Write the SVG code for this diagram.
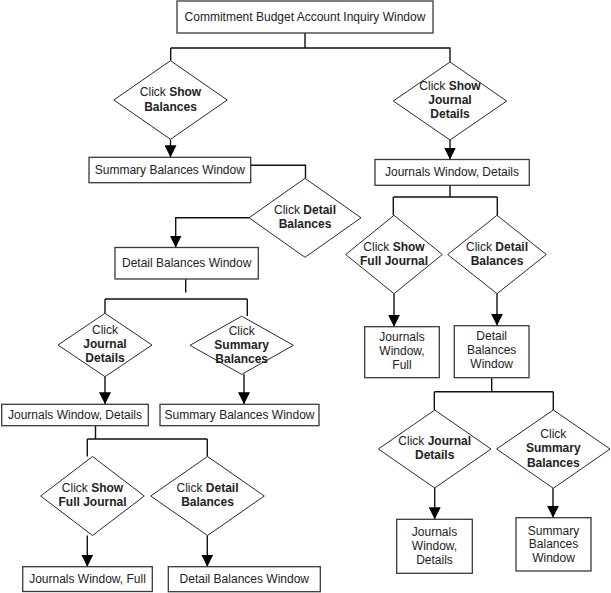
<svg xmlns="http://www.w3.org/2000/svg" width="611" height="593" viewBox="0 0 611 593">
<defs>
<style>
.box{fill:#fff;stroke:#3a3a3a;stroke-width:1.3}
.dia{fill:#fff;stroke:#2a2a2a;stroke-width:1}
.ln{fill:none;stroke:#111;stroke-width:1.4}
.ar{fill:none;stroke:#111;stroke-width:1.4;marker-end:url(#arr)}
text{font-family:"Liberation Sans",Arial,sans-serif;font-size:12px;fill:#222;text-anchor:middle;dominant-baseline:central}
.b{font-weight:bold}
</style>
<marker id="arr" markerUnits="userSpaceOnUse" markerWidth="12" markerHeight="12" viewBox="0 0 12 12" refX="12" refY="6" orient="auto">
<path d="M0,0 L12,6 L0,12 z" fill="#000"/>
</marker>
</defs>
<g id="connectors">
<path class="ln" d="M305,33 V48 M170.7,48 H450.5 M170.7,48 V60.7 M450,48 V61.7"/>
<path class="ar" d="M170.5,139.3 V157.3"/>
<path class="ar" d="M450,140 V159.5"/>
<path class="ln" d="M250.7,165.3 H305.5 V178.3"/>
<path class="ar" d="M249,217.7 H175.7 V247.5"/>
<path class="ln" d="M185.7,279 V292.5 M105,299 H247.3 M105,299 V313.3 M247.3,299 V316"/>
<path class="ar" d="M105,376.7 V404.3"/>
<path class="ar" d="M244,374.3 V404.3"/>
<path class="ln" d="M95.5,425.7 V439 M87.3,439 H207.3 M87.3,439 V456.5 M207.3,439 V456.5"/>
<path class="ar" d="M87.3,535.5 V566.7"/>
<path class="ar" d="M207.3,535.5 V566.7"/>
<path class="ln" d="M450,185.3 V197 M393.3,197 H497.3 M393.3,197 V215.3 M497.3,197 V215.3"/>
<path class="ar" d="M394,294 V326.7"/>
<path class="ar" d="M497,294 V325.7"/>
<path class="ln" d="M491.7,377.7 V391.7 M434.3,391.7 H553.3 M434.3,391.7 V410 M553.3,391.7 V410"/>
<path class="ar" d="M434.7,487.3 V519.3"/>
<path class="ar" d="M553,488.3 V517.7"/>
</g>
<g id="n_top"><rect class="box" x="177" y="1" width="256" height="32"/><text x="305" y="16.5">Commitment Budget Account Inquiry Window</text></g>
<g id="d_show_balances"><polygon class="dia" points="170.5,60.7 227.2,100 170.5,139.3 113.8,100"/><text x="170.5" y="92">Click <tspan class="b">Show</tspan></text><text class="b" x="170.5" y="107">Balances</text></g>
<g id="n_summary1"><rect class="box" x="89" y="157.3" width="161.7" height="25.4"/><text x="169.8" y="170">Summary Balances Window</text></g>
<g id="d_show_journal"><polygon class="dia" points="450,62 506.7,101 450,140 393.3,101"/><text x="450" y="86">Click <tspan class="b">Show</tspan></text><text class="b" x="450" y="100">Journal</text><text class="b" x="450" y="114">Details</text></g>
<g id="n_journals_r"><rect class="box" x="375" y="159.5" width="154.3" height="25.8"/><text x="452" y="172">Journals Window, Details</text></g>
<g id="d_detail1"><polygon class="dia" points="305,178.3 361,217.8 305,257.3 249,217.8"/><text x="305" y="210">Click <tspan class="b">Detail</tspan></text><text class="b" x="305" y="224">Balances</text></g>
<g id="n_detail1"><rect class="box" x="115" y="247.5" width="143.3" height="31.5"/><text x="186.7" y="262.5">Detail Balances Window</text></g>
<g id="d_journal_l"><polygon class="dia" points="105,313.3 152,345 105,376.7 58,345"/><text x="105" y="330">Click</text><text class="b" x="105" y="344">Journal</text><text class="b" x="105" y="358.3">Details</text></g>
<g id="d_summary_l"><polygon class="dia" points="241.7,316.2 293.4,345.3 241.7,374.4 190,345.3"/><text x="241.7" y="330.7">Click</text><text class="b" x="241.7" y="345">Summary</text><text class="b" x="241.7" y="359.3">Balances</text></g>
<g id="n_journals_l"><rect class="box" x="1.7" y="404.3" width="146.6" height="21.4"/><text x="75" y="414.5">Journals Window, Details</text></g>
<g id="n_summary2"><rect class="box" x="160" y="404.3" width="159" height="21.4"/><text x="239.5" y="414.5">Summary Balances Window</text></g>
<g id="d_full_l"><polygon class="dia" points="92.5,456.5 144.3,496 92.5,535.5 40.7,496"/><text x="92.5" y="488.3">Click <tspan class="b">Show</tspan></text><text class="b" x="92.5" y="502.3">Full Journal</text></g>
<g id="d_detail2"><polygon class="dia" points="207.5,456.5 264.3,496 207.5,535.5 150.7,496"/><text x="207.5" y="488.3">Click <tspan class="b">Detail</tspan></text><text class="b" x="207.5" y="502.3">Balances</text></g>
<g id="n_full_l"><rect class="box" x="22.7" y="566.7" width="129.6" height="24.8"/><text x="87.5" y="578.8">Journals Window, Full</text></g>
<g id="n_detail2"><rect class="box" x="168.3" y="566.7" width="152" height="25"/><text x="244.3" y="579">Detail Balances Window</text></g>
<g id="d_full_r"><polygon class="dia" points="394,215.3 442.3,254.5 394,293.7 345.7,254.5"/><text x="394" y="246.7">Click <tspan class="b">Show</tspan></text><text class="b" x="394" y="260.7">Full Journal</text></g>
<g id="d_detail3"><polygon class="dia" points="497,215.3 546.3,254.5 497,293.7 447.7,254.5"/><text x="497" y="246.7">Click <tspan class="b">Detail</tspan></text><text class="b" x="497" y="260.7">Balances</text></g>
<g id="n_full_r"><rect class="box" x="364.7" y="326.7" width="74.6" height="51"/><text x="402" y="336.7">Journals</text><text x="402" y="351">Window,</text><text x="402" y="365">Full</text></g>
<g id="n_detail3"><rect class="box" x="454.3" y="325.7" width="74.7" height="52"/><text x="491.7" y="336">Detail</text><text x="491.7" y="350">Balances</text><text x="491.7" y="364">Window</text></g>
<g id="d_journal_r"><polygon class="dia" points="434.7,410 491,449 434.7,488 378.4,449"/><text x="434.7" y="441">Click <tspan class="b">Journal</tspan></text><text class="b" x="434.7" y="455">Details</text></g>
<g id="d_summary_r"><polygon class="dia" points="553.3,410 610,449 553.3,488.3 496.6,449"/><text x="553.3" y="434">Click</text><text class="b" x="553.3" y="448">Summary</text><text class="b" x="553.3" y="462.5">Balances</text></g>
<g id="n_journals_r2"><rect class="box" x="396.7" y="519.3" width="75.6" height="54"/><text x="434.5" y="531.7">Journals</text><text x="434.5" y="546">Window,</text><text x="434.5" y="560">Details</text></g>
<g id="n_summary3"><rect class="box" x="516" y="517.7" width="75" height="53.3"/><text x="553.5" y="530.7">Summary</text><text x="553.5" y="544">Balances</text><text x="553.5" y="558.3">Window</text></g>
</svg>
